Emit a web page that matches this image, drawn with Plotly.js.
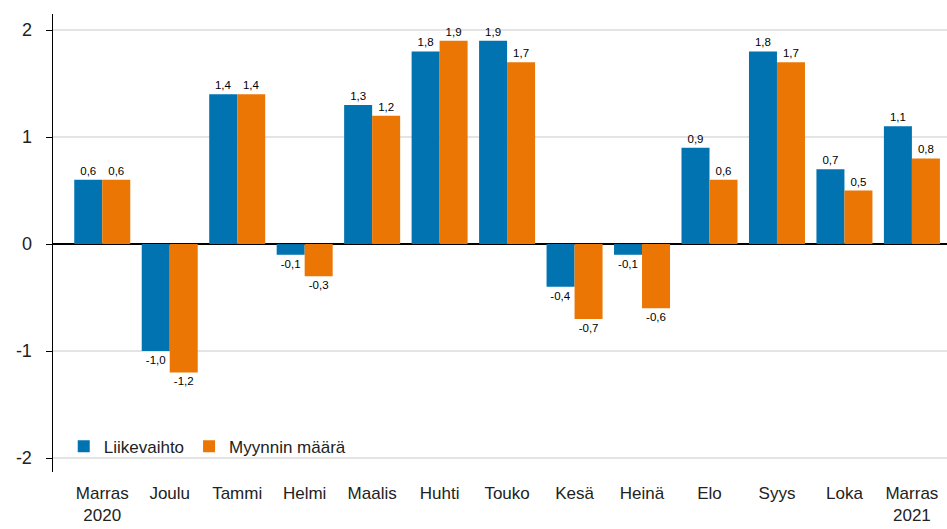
<!DOCTYPE html>
<html>
<head>
<meta charset="utf-8">
<script src="https://cdn.plot.ly/plotly-3.0.1.min.js"></script>
<style>html,body{margin:0;padding:0;background:#fff;}#chart{width:947px;height:529px;}</style>
</head>
<body>
<div id="chart"></div>
<script>
const categories = ["Marras<br>2020","Joulu","Tammi","Helmi","Maalis","Huhti","Touko","Kesä","Heinä","Elo","Syys","Loka","Marras<br>2021"];
const liikevaihto = [0.6, -1.0, 1.4, -0.1, 1.3, 1.8, 1.9, -0.4, -0.1, 0.9, 1.8, 0.7, 1.1];
const myynninMaara = [0.6, -1.2, 1.4, -0.3, 1.2, 1.9, 1.7, -0.7, -0.6, 0.6, 1.7, 0.5, 0.8];
const seriesNames = ["Liikevaihto", "Myynnin määrä"];
const yTickVals = [-2, -1, 0, 1, 2];
const yTickText = ["-2", "-1", "0", "1", "2"];

const fmt = v => v.toFixed(1).replace('.', ',');
const xIdx = categories.map((_, i) => i);

const common = {
  type: 'bar',
  x: xIdx,
  textposition: 'outside',
  textfont: {family: 'Liberation Sans, Arial, sans-serif', size: 11.5, color: '#000'},
  cliponaxis: false,
  hoverinfo: 'none'
};

const data = [
  Object.assign({}, common, {name: seriesNames[0], y: liikevaihto, text: liikevaihto.map(fmt), marker: {color: '#0073b0'}}),
  Object.assign({}, common, {name: seriesNames[1], y: myynninMaara, text: myynninMaara.map(fmt), marker: {color: '#eb7603'}})
];

const layout = {
  width: 947, height: 529,
  margin: {l: 53, r: 0, t: 14, b: 57},
  paper_bgcolor: '#fff', plot_bgcolor: '#fff',
  font: {family: 'Liberation Sans, Arial, sans-serif', size: 16, color: '#222'},
  barmode: 'group', bargap: 0.17, bargroupgap: 0,
  showlegend: true,
  legend: {orientation: 'h', x: 0.012, xanchor: 'left', y: 0.055, yanchor: 'middle',
           font: {size: 17, color: '#222'}, bgcolor: 'rgba(0,0,0,0)', itemwidth: 30, traceorder: 'normal'},
  xaxis: {
    range: [-0.73, 12.52],
    tickvals: xIdx, ticktext: categories,
    showgrid: false, zeroline: false, showline: false, ticks: '',
    ticklabelstandoff: 9,
    tickfont: {size: 17, color: '#222'}, fixedrange: true
  },
  yaxis: {
    range: [-2.13, 2.15],
    tickvals: yTickVals, ticktext: yTickText,
    showgrid: true, gridcolor: '#e4e4e4', gridwidth: 1.5,
    zeroline: true, zerolinecolor: '#000', zerolinewidth: 1.5,
    showline: true, linecolor: '#000', linewidth: 1.5,
    ticks: 'outside', ticklen: 6, tickcolor: '#000',
    ticklabelstandoff: 10,
    tickfont: {size: 18, color: '#222'}, fixedrange: true
  }
};

Plotly.newPlot('chart', data, layout, {displayModeBar: false, staticPlot: true});
</script>
</body>
</html>
